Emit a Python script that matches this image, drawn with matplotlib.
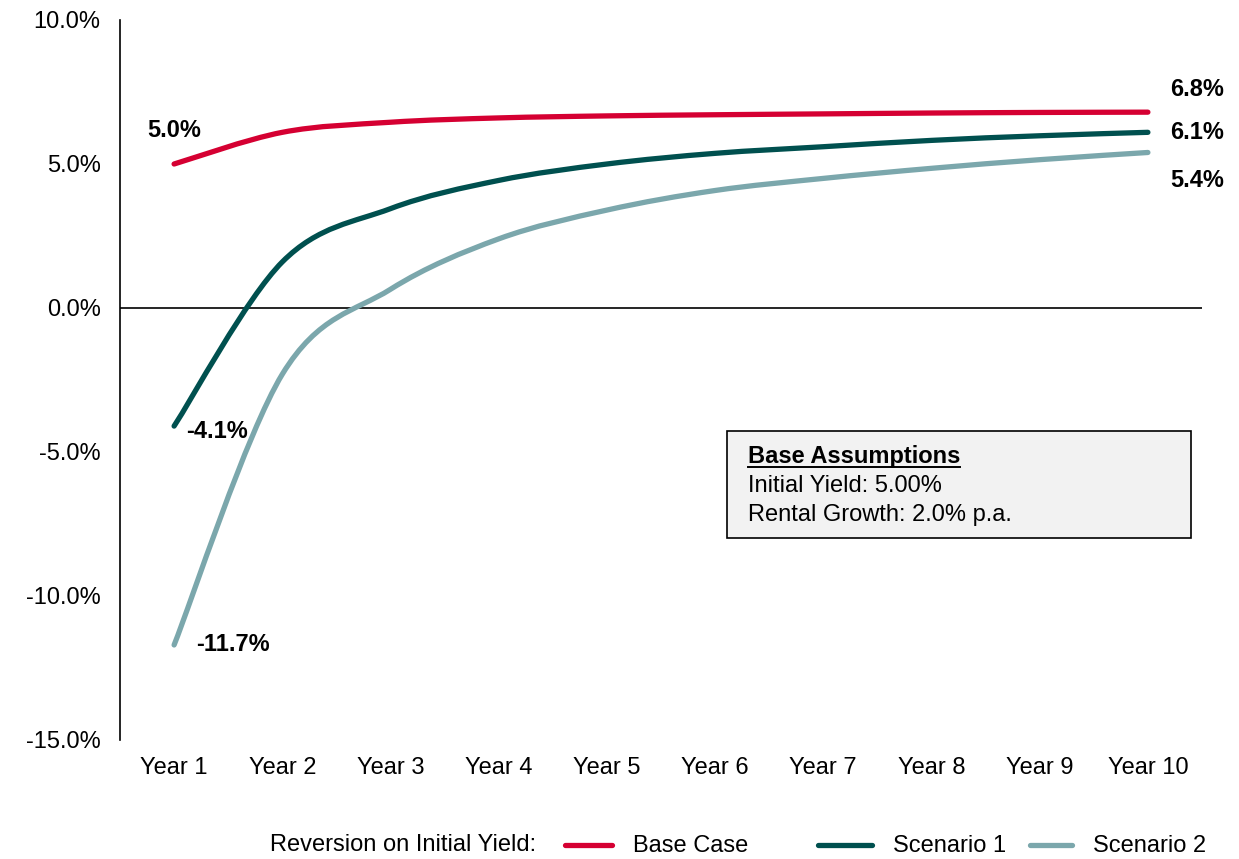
import numpy as np
import matplotlib.pyplot as plt
from matplotlib.path import Path
from matplotlib.patches import PathPatch, Rectangle
from matplotlib.lines import Line2D

plt.rcParams['font.family'] = ['Liberation Sans', 'DejaVu Sans']

#   Reversion on initial yield by year (%)
years = ["Year 1", "Year 2", "Year 3", "Year 4", "Year 5",
         "Year 6", "Year 7", "Year 8", "Year 9", "Year 10"]
baseCase = [5.0, 6.1, 6.45, 6.6, 6.67, 6.71, 6.74, 6.77, 6.79, 6.8]
scenario1 = [-4.1, 1.6, 3.45, 4.43, 5.0, 5.37, 5.6, 5.82, 5.98, 6.1]
scenario2 = [-11.7, -2.3, 0.65, 2.4, 3.4, 4.08, 4.5, 4.85, 5.15, 5.4]
seriesNames = ["Base Case", "Scenario 1", "Scenario 2"]
yTicks = [-15, -10, -5, 0, 5, 10]

colours = ["#D50032", "#00504F", "#7BA7AC"]
fs = 17


def smoothPath(xs, ys):
    #   Catmull-Rom style bezier through every point (like a smoothed line)
    pts = np.column_stack([xs, ys]).astype(float)
    n = len(pts)
    verts = [pts[0]]
    codes = [Path.MOVETO]
    for i in range(n - 1):
        p0 = pts[i - 1] if i > 0 else pts[i]
        p1 = pts[i]
        p2 = pts[i + 1]
        p3 = pts[i + 2] if i + 2 < n else pts[i + 1]
        c1 = p1 + (p2 - p0) / 6.0
        c2 = p2 - (p3 - p1) / 6.0
        verts += [c1, c2, p2]
        codes += [Path.CURVE4] * 3
    return Path(verts, codes)


fig = plt.figure(figsize=(12.39, 8.59), dpi=100)
ax = fig.add_axes([120 / 1239, 1 - 740 / 859, 1082 / 1239, 720 / 859])

xPos = np.arange(1, len(years) + 1)
allSeries = [baseCase, scenario1, scenario2]
for vals, col in zip(allSeries, colours):
    patch = PathPatch(smoothPath(xPos, vals), facecolor='none', edgecolor=col,
                      lw=3.8, capstyle='round', joinstyle='round', zorder=3)
    ax.add_patch(patch)

ax.set_xlim(0.5, 10.5)
ax.set_ylim(-15, 10)
ax.set_xticks(xPos)
ax.set_xticklabels(years)
ax.set_yticks(yTicks)
ax.set_yticklabels([f"{t:.1f}%" for t in yTicks])
ax.tick_params(axis='both', length=0, labelsize=fs)
ax.tick_params(axis='y', pad=14)
ax.tick_params(axis='x', pad=12)

for side in ['top', 'right', 'bottom']:
    ax.spines[side].set_visible(False)
ax.spines['left'].set_linewidth(1.2)
ax.axhline(0, color='black', lw=1.2, zorder=2)

#   Data labels at start and end of each series
lbl = dict(fontsize=fs, fontweight='bold', color='black')
ax.annotate(f"{baseCase[0]:.1f}%", (1, baseCase[0]), xytext=(0, 24),
            textcoords='offset points', ha='center', va='center', **lbl)
ax.annotate(f"{scenario1[0]:.1f}%", (1, scenario1[0]), xytext=(9, -4),
            textcoords='offset points', ha='left', va='center', **lbl)
ax.annotate(f"{scenario2[0]:.1f}%", (1, scenario2[0]), xytext=(16, 0),
            textcoords='offset points', ha='left', va='center', **lbl)
ax.annotate(f"{baseCase[-1]:.1f}%", (10, baseCase[-1]), xytext=(16, 16),
            textcoords='offset points', ha='left', va='center', **lbl)
ax.annotate(f"{scenario1[-1]:.1f}%", (10, scenario1[-1]), xytext=(16, 0),
            textcoords='offset points', ha='left', va='center', **lbl)
ax.annotate(f"{scenario2[-1]:.1f}%", (10, scenario2[-1]), xytext=(16, -20),
            textcoords='offset points', ha='left', va='center', **lbl)

#   Assumptions box
fig.add_artist(Rectangle((727 / 1239, 1 - 538 / 859), 464 / 1239, 107 / 859,
                         transform=fig.transFigure, facecolor='#F2F2F2',
                         edgecolor='black', lw=1.2))
title = fig.text(748 / 1239, 1 - 457 / 859, "Base Assumptions", fontsize=fs,
                 fontweight='bold', va='center', ha='left')
fig.text(748 / 1239, 1 - 486 / 859, "Initial Yield: 5.00%", fontsize=fs,
         va='center', ha='left')
fig.text(748 / 1239, 1 - 515 / 859, "Rental Growth: 2.0% p.a.", fontsize=fs,
         va='center', ha='left')

#   Underline the box title
renderer = fig.canvas.get_renderer()
bb = title.get_window_extent(renderer).transformed(fig.transFigure.inverted())
fig.add_artist(Line2D([bb.x0, bb.x1], [bb.y0 + 0.002, bb.y0 + 0.002],
                      transform=fig.transFigure, color='black', lw=1.4))

#   Legend along the bottom
legY = 1 - 845 / 859
fig.text(270 / 1239, legY, "Reversion on Initial Yield:", fontsize=fs,
         va='center', ha='left')
handleX = [565, 818, 1030]
handleW = [47, 54, 42]
for name, col, hx, hw in zip(seriesNames, colours, handleX, handleW):
    fig.add_artist(Line2D([hx / 1239, (hx + hw) / 1239], [legY, legY],
                          transform=fig.transFigure, color=col, lw=3.8,
                          solid_capstyle='round'))
    fig.text((hx + hw + 21) / 1239, legY - 0.001, name, fontsize=fs,
             va='center', ha='left')

plt.savefig("out.png", dpi=100)
